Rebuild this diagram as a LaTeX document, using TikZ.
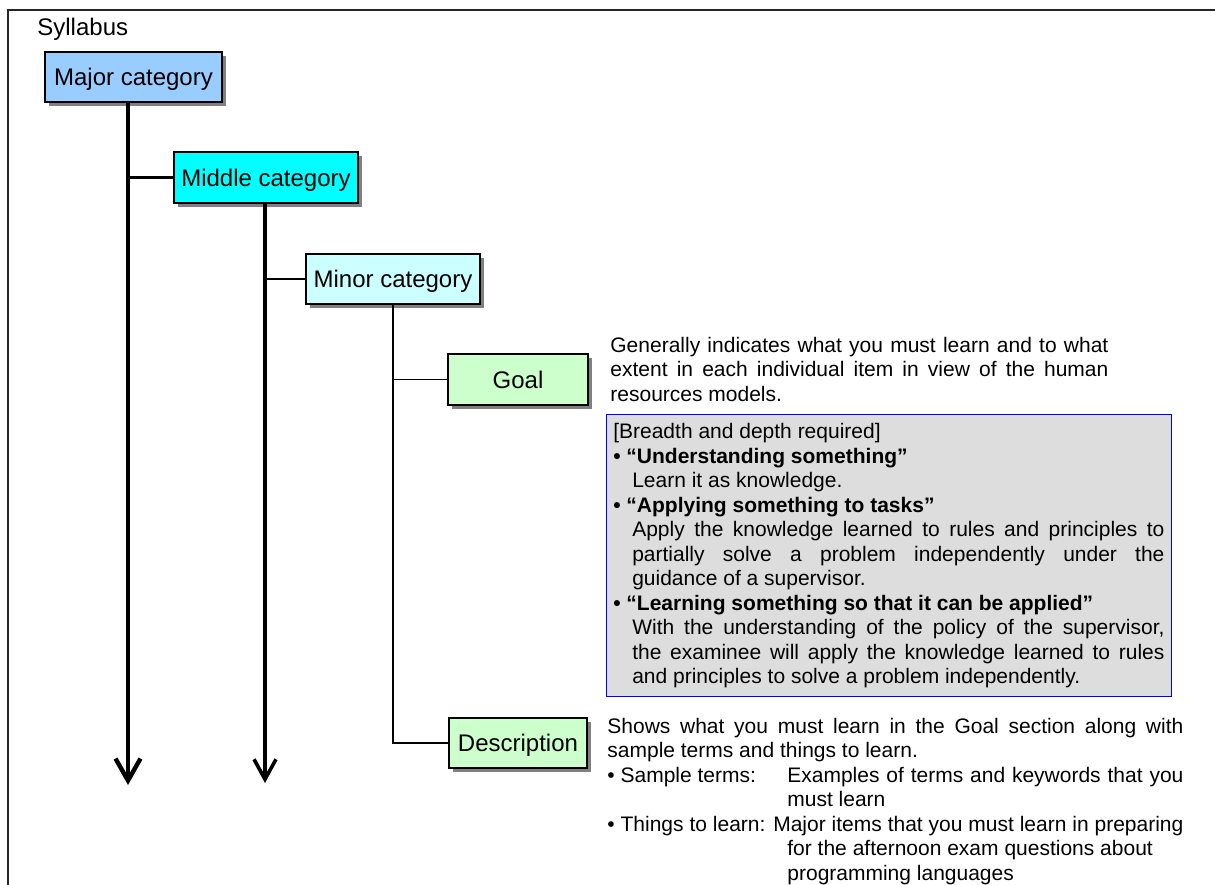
\documentclass[tikz,border=0pt]{standalone}
\usepackage{fontspec}
\setmainfont{Liberation Sans}
\usetikzlibrary{positioning, shadows, arrows.meta}
\definecolor{sbMajor}{RGB}{153,204,255}
\definecolor{sbMiddle}{RGB}{0,255,255}
\definecolor{sbMinor}{RGB}{204,255,255}
\definecolor{sbItem}{RGB}{204,255,204}
\definecolor{sbNote}{RGB}{221,221,221}
\definecolor{sbShadow}{RGB}{128,128,128}
\definecolor{sbBlue}{RGB}{0,0,255}
\setlength{\parindent}{0pt}
\tolerance=9999
\hbadness=10000
\tikzset{
  catbox/.style={draw=black, line width=0.6pt, minimum height=25pt, inner sep=0pt, text depth=0pt,
    font=\fontsize{12pt}{14pt}\selectfont,
    drop shadow={shadow xshift=2pt, shadow yshift=-2pt, fill=sbShadow, opacity=1}},
  bodytext/.style={anchor=north west, inner sep=0pt, align=justify,
    font=\fontsize{10.5pt}{12.25pt}\selectfont},
  majorline/.style={line width=2.2pt, -{Straight Barb[length=11pt,width=12.5pt]}},
  middleline/.style={line width=1.8pt, -{Straight Barb[length=10pt,width=11pt]}},
  majorbranch/.style={line width=1.8pt},
  middlebranch/.style={line width=1.4pt},
  minorline/.style={line width=0.6pt},
}
\begin{document}
\begin{tikzpicture}[x=0.5pt, y=-0.5pt]
  \useasboundingbox (0,0) rectangle (1215,884);
  \draw[line width=0.8pt, black!85] (8,10) rectangle (1240,910);
  \node[anchor=base west, inner sep=0pt, font=\fontsize{12pt}{14pt}\selectfont] (title) at (37,35) {Syllabus};

  % category boxes
  \node[catbox, fill=sbMajor, minimum width=88.5pt] (major) at (133.5,77) {Major category};
  \node[catbox, fill=sbMiddle, minimum width=92pt, minimum height=25.5pt] (middle) at (266,177.5) {Middle category};
  \node[catbox, fill=sbMinor, minimum width=87pt] (minor) at (393,279) {Minor category};
  \node[catbox, fill=sbItem, minimum width=70pt, minimum height=25.5pt] (goal) at (518,379.5) {Goal};
  \node[catbox, fill=sbItem, minimum width=69pt] (desc) at (518,743) {Description};

  % connectors
  \coordinate (majorend) at (128,785);
  \coordinate (middleend) at (265,783);
  \draw[majorline] (majorend |- major.south) -- (majorend);
  \draw[majorbranch] (majorend |- middle.west) -- (middle.west);
  \draw[middleline] (middleend |- middle.south) -- (middleend);
  \draw[middlebranch] (middleend |- minor.west) -- (minor.west);
  \draw[minorline] (minor.south) |- (desc.west);
  \draw[minorline] (minor.south |- goal.west) -- (goal.west);

  % goal texts
  \node[bodytext, text width=249pt] (goaltext) at (610,336.5) {Generally indicates what you must learn and to what\linebreak extent in each individual item in view of the human\linebreak resources models.\par};
  \node[bodytext, draw=sbBlue, fill=sbNote, line width=0.6pt, text width=275.6pt, inner xsep=3.5pt,
    minimum height=141pt] (goalnote) at (605.7,414) {[Breadth and depth required]\par
    \textbf{• “Understanding something”}\par
    \hangindent=9.5pt\hangafter=0 Learn it as knowledge.\par
    \textbf{• “Applying something to tasks”}\par
    \hangindent=9.5pt\hangafter=0 Apply the knowledge learned to rules and principles to\linebreak partially solve a problem independently under the\linebreak guidance of a supervisor.\par
    \textbf{• “Learning something so that it can be applied”}\par
    \hangindent=9.5pt\hangafter=0 With the understanding of the policy of the supervisor,\linebreak the examinee will apply the knowledge learned to rules\linebreak and principles to solve a problem independently.\par};

  % description text
  \node[bodytext, text width=288pt] (desctext) at (607,717.5) {Shows what you must learn in the Goal section along with\linebreak sample terms and things to learn.\par
    \hangindent=90pt\hangafter=1 \makebox[90pt][l]{• Sample terms:}Examples of terms and keywords that you\linebreak must learn\par
    \hangindent=90pt\hangafter=1 • Things to learn: Major items that you must learn in preparing\linebreak for the afternoon exam questions about\hfil\break programming languages\par};
\end{tikzpicture}
\end{document}
